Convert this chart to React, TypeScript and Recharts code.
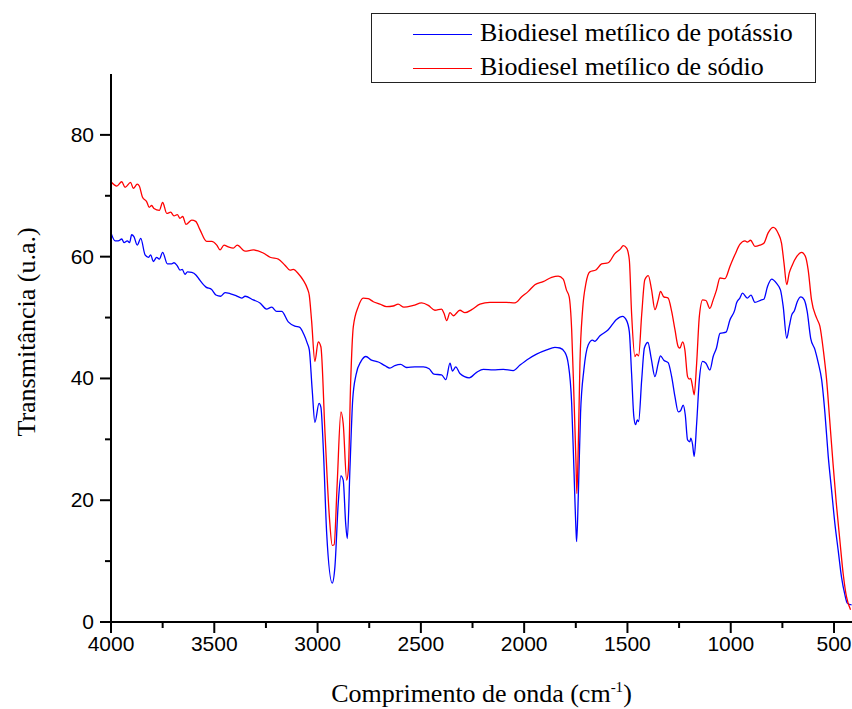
import { LineChart, Line, XAxis, YAxis, Label } from "recharts";

// wavenumber (cm-1), transmittance (u.a.)
const potassio: [number, number][] = [
  [4000, 63.9], [3980, 62.6], [3965, 62.6], [3948, 62.9], [3937, 62.3], [3921, 62.6], [3910, 62.3],
  [3900, 63.6], [3889, 63.3], [3873, 61.9], [3856, 63.0], [3835, 60.3], [3819, 59.9], [3808, 60.3],
  [3795, 59.2], [3779, 59.9], [3766, 59.6], [3750, 60.7], [3727, 58.8], [3706, 58.8], [3695, 59.0],
  [3679, 58.5], [3666, 57.8], [3655, 57.9], [3642, 57.1], [3630, 57.5], [3609, 57.4], [3589, 57.0],
  [3569, 56.1], [3540, 55.0], [3513, 54.6], [3492, 53.7], [3469, 53.5], [3448, 54.1], [3421, 53.9],
  [3395, 53.6], [3367, 53.2], [3351, 53.5], [3311, 52.9], [3279, 52.4], [3247, 51.4], [3222, 51.7],
  [3198, 51.0], [3174, 51.0], [3142, 49.3], [3110, 48.6], [3086, 48.4], [3066, 47.2], [3050, 45.8],
  [3040, 44.7], [3026, 38.1], [3013, 32.8], [2993, 35.9], [2984, 35.3], [2972, 28.3], [2956, 14.6],
  [2929, 6.4], [2916, 9.1], [2900, 19.5], [2887, 24.0], [2876, 23.3], [2864, 16.2], [2856, 13.7],
  [2843, 25.5], [2830, 36.5], [2814, 40.6], [2790, 42.8], [2766, 43.6], [2739, 43.0], [2706, 42.7],
  [2674, 42.1], [2650, 41.7], [2626, 42.1], [2598, 42.3], [2569, 41.8], [2529, 41.9], [2488, 41.9],
  [2460, 41.6], [2437, 40.7], [2400, 40.6], [2379, 39.8], [2359, 42.5], [2347, 41.2], [2331, 41.9],
  [2311, 40.8], [2266, 40.1], [2230, 41.0], [2198, 41.5], [2150, 41.4], [2101, 41.5], [2053, 41.3],
  [2020, 42.2], [1980, 43.2], [1940, 44.0], [1891, 44.7], [1851, 45.1], [1827, 45.0], [1803, 44.3],
  [1787, 42.5], [1770, 35.9], [1759, 25.0], [1749, 15.1], [1746, 13.2], [1738, 20.6], [1727, 34.3],
  [1711, 41.4], [1690, 45.5], [1669, 46.3], [1658, 46.1], [1633, 47.0], [1593, 48.0], [1553, 49.7],
  [1524, 50.2], [1504, 49.5], [1491, 47.7], [1480, 40.8], [1469, 33.7], [1461, 32.4], [1452, 33.2],
  [1446, 32.9], [1431, 39.8], [1418, 45.0], [1401, 45.9], [1385, 43.3], [1367, 40.3], [1351, 42.5],
  [1340, 43.7], [1324, 43.0], [1303, 42.6], [1286, 40.3], [1270, 37.0], [1254, 34.5], [1243, 34.7],
  [1230, 35.6], [1220, 34.0], [1209, 29.9], [1198, 29.6], [1193, 30.2], [1185, 29.2], [1177, 27.2],
  [1165, 32.6], [1152, 39.8], [1136, 42.8], [1120, 42.5], [1101, 41.4], [1085, 43.6], [1069, 45.0],
  [1052, 47.4], [1023, 47.6], [1004, 49.6], [980, 51.3], [972, 52.4], [956, 53.2], [943, 54.0],
  [920, 53.2], [902, 53.7], [883, 52.5], [851, 52.9], [840, 53.0], [822, 55.1], [802, 56.3],
  [778, 55.6], [759, 54.5], [746, 51.8], [729, 46.6], [717, 48.5], [705, 50.4], [692, 51.1],
  [678, 52.6], [660, 53.4], [644, 52.9], [630, 51.0], [613, 46.6], [592, 44.7], [576, 42.5],
  [560, 39.8], [544, 34.3], [528, 27.2], [512, 21.7], [496, 16.2], [480, 11.8], [464, 7.4],
  [447, 4.4], [436, 3.1], [415, 2.8],
];

const sodio: [number, number][] = [
  [4000, 72.3], [3972, 71.6], [3948, 72.3], [3932, 71.4], [3905, 72.2], [3892, 71.2], [3873, 71.9],
  [3863, 71.6], [3848, 69.8], [3827, 69.0], [3815, 68.1], [3803, 68.4], [3792, 67.9], [3766, 67.6],
  [3750, 68.9], [3730, 67.1], [3711, 67.3], [3695, 66.7], [3679, 66.9], [3666, 66.3], [3653, 66.6],
  [3637, 65.3], [3609, 66.0], [3590, 65.8], [3569, 64.4], [3537, 62.5], [3513, 62.5], [3488, 61.9],
  [3472, 61.1], [3453, 61.9], [3432, 61.6], [3408, 61.4], [3389, 61.9], [3351, 60.9], [3311, 61.1],
  [3263, 60.6], [3230, 59.9], [3190, 59.6], [3158, 58.6], [3134, 57.8], [3118, 57.9], [3093, 57.2],
  [3069, 56.1], [3050, 54.8], [3040, 53.6], [3029, 49.5], [3013, 42.8], [2997, 46.0], [2984, 45.2],
  [2964, 31.0], [2943, 17.3], [2929, 12.6], [2920, 12.7], [2905, 22.8], [2887, 34.5], [2876, 32.6],
  [2859, 23.3], [2851, 25.0], [2840, 39.2], [2827, 48.5], [2803, 51.8], [2779, 53.2], [2755, 53.1],
  [2730, 52.6], [2698, 52.2], [2666, 51.8], [2634, 51.9], [2610, 52.2], [2582, 51.7], [2536, 52.0],
  [2496, 52.4], [2464, 52.0], [2432, 51.2], [2400, 51.4], [2388, 50.7], [2375, 49.5], [2359, 50.8],
  [2343, 50.3], [2311, 51.2], [2287, 50.8], [2254, 51.3], [2214, 52.2], [2166, 52.5], [2125, 52.5],
  [2085, 52.5], [2045, 52.4], [2012, 53.4], [1980, 54.3], [1948, 55.4], [1908, 55.9], [1867, 56.6],
  [1835, 56.8], [1811, 56.3], [1795, 54.5], [1782, 53.4], [1770, 48.0], [1759, 37.0], [1749, 26.1],
  [1745, 21.1], [1738, 28.8], [1730, 42.5], [1717, 51.3], [1701, 55.6], [1682, 57.5], [1653, 57.8],
  [1625, 58.8], [1593, 59.0], [1561, 60.5], [1536, 61.2], [1520, 61.8], [1504, 61.4], [1491, 59.5],
  [1480, 50.7], [1464, 43.6], [1455, 44.0], [1446, 43.7], [1431, 50.5], [1416, 56.2], [1399, 56.9],
  [1383, 54.5], [1367, 51.3], [1351, 52.9], [1340, 54.3], [1324, 53.4], [1303, 53.2], [1286, 51.0],
  [1270, 48.0], [1254, 45.2], [1246, 45.0], [1233, 46.0], [1222, 44.7], [1209, 40.3], [1201, 39.9],
  [1194, 40.0], [1185, 38.7], [1177, 37.3], [1165, 42.5], [1152, 50.2], [1136, 52.9], [1120, 52.8],
  [1101, 51.5], [1085, 52.9], [1069, 54.5], [1052, 56.5], [1028, 56.4], [1004, 58.4], [980, 60.3],
  [956, 62.0], [931, 62.6], [920, 62.4], [904, 62.7], [883, 61.7], [859, 61.9], [840, 62.2],
  [819, 63.9], [794, 64.8], [770, 63.8], [754, 62.2], [742, 58.9], [729, 55.4], [717, 57.3],
  [705, 58.4], [681, 60.0], [657, 60.7], [638, 60.0], [625, 57.8], [609, 52.9], [584, 49.9],
  [568, 48.5], [552, 44.7], [536, 39.8], [521, 33.2], [505, 26.1], [489, 19.5], [472, 13.5],
  [456, 8.0], [440, 4.2], [420, 2.0],
];

const xTicks = [4000, 3750, 3500, 3250, 3000, 2750, 2500, 2250, 2000, 1750, 1500, 1250, 1000, 750, 500];
const yTicks = [0, 10, 20, 30, 40, 50, 60, 70, 80];

const seriesNames = ["Biodiesel metílico de potássio", "Biodiesel metílico de sódio"];
const seriesColors = ["#0000ff", "#ff0000"];

const toRows = (pts: [number, number][]) => pts.map(([wn, v]) => ({ wn, v }));

const SANS = "'Liberation Sans', Arial, sans-serif";
const SERIF = "'Liberation Serif', 'Times New Roman', serif";

function XTick(props: any) {
  const { x, y, payload } = props;
  const major = payload.value % 500 === 0;
  return (
    <g>
      <line x1={x} y1={y} x2={x} y2={y + (major ? 11 : 6)} stroke="#000" strokeWidth={2} />
      {major && (
        <text x={x} y={y + 29} textAnchor="middle" fontFamily={SANS} fontSize={21} fill="#000">
          {payload.value}
        </text>
      )}
    </g>
  );
}

function YTick(props: any) {
  const { x, y, payload } = props;
  const major = payload.value % 20 === 0;
  return (
    <g>
      <line x1={x - (major ? 11 : 6)} y1={y} x2={x} y2={y} stroke="#000" strokeWidth={2} />
      {major && (
        <text x={x - 17} y={y + 7} textAnchor="end" fontFamily={SANS} fontSize={21} fill="#000">
          {payload.value}
        </text>
      )}
    </g>
  );
}

function XTitle(props: any) {
  const vb = props.viewBox;
  return (
    <text x={vb.x + vb.width / 2} y={vb.y + 80} textAnchor="middle" fontFamily={SERIF} fontSize={26} fill="#000">
      Comprimento de onda (cm
      <tspan dy={-10} fontSize={15}>-1</tspan>
      <tspan dy={10}>)</tspan>
    </text>
  );
}

function YTitle(props: any) {
  const vb = props.viewBox;
  const cx = vb.x + 26;
  const cy = vb.y + vb.height / 2 - 16;
  return (
    <text x={cx} y={cy} transform={`rotate(-90 ${cx} ${cy})`} textAnchor="middle" dominantBaseline="central"
      fontFamily={SERIF} fontSize={26} fill="#000">
      Transmitância (u.a.)
    </text>
  );
}

export default function App() {
  return (
    <div style={{ position: "absolute", left: 0, top: 0, width: 852, height: 709, background: "#fff" }}>
      <LineChart width={852} height={709} margin={{ top: 74, right: 0, bottom: 0, left: 0 }}>
        <XAxis
          dataKey="wn"
          type="number"
          domain={[413, 4000]}
          reversed
          allowDataOverflow
          ticks={xTicks}
          interval={0}
          height={87}
          tickSize={0}
          tickMargin={0}
          tickLine={false}
          tick={<XTick />}
          axisLine={{ stroke: "#000", strokeWidth: 2 }}
        >
          <Label content={<XTitle />} />
        </XAxis>
        <YAxis
          type="number"
          domain={[0, 90]}
          ticks={yTicks}
          interval={0}
          width={111}
          tickSize={0}
          tickMargin={0}
          tickLine={false}
          tick={<YTick />}
          axisLine={{ stroke: "#000", strokeWidth: 2 }}
        >
          <Label content={<YTitle />} />
        </YAxis>
        <Line data={toRows(potassio)} dataKey="v" type="monotone" stroke={seriesColors[0]} strokeWidth={1.3}
          dot={false} activeDot={false} isAnimationActive={false} />
        <Line data={toRows(sodio)} dataKey="v" type="monotone" stroke={seriesColors[1]} strokeWidth={1.3}
          dot={false} activeDot={false} isAnimationActive={false} />
      </LineChart>
      <div
        style={{
          position: "absolute", left: 371, top: 13, width: 443, height: 68,
          border: "1.5px solid #222", fontFamily: SERIF, fontSize: 26, color: "#000",
        }}
      >
        {seriesNames.map((name, i) => (
          <div key={name} style={{ position: "absolute", left: 0, top: i === 0 ? 3 : 37, height: 32, width: 440 }}>
            <div style={{ position: "absolute", left: 41, top: 17, width: 59, height: 0, borderTop: `1.3px solid ${seriesColors[i]}` }} />
            <div style={{ position: "absolute", left: 108, top: 0, lineHeight: "32px", whiteSpace: "nowrap" }}>{name}</div>
          </div>
        ))}
      </div>
    </div>
  );
}
